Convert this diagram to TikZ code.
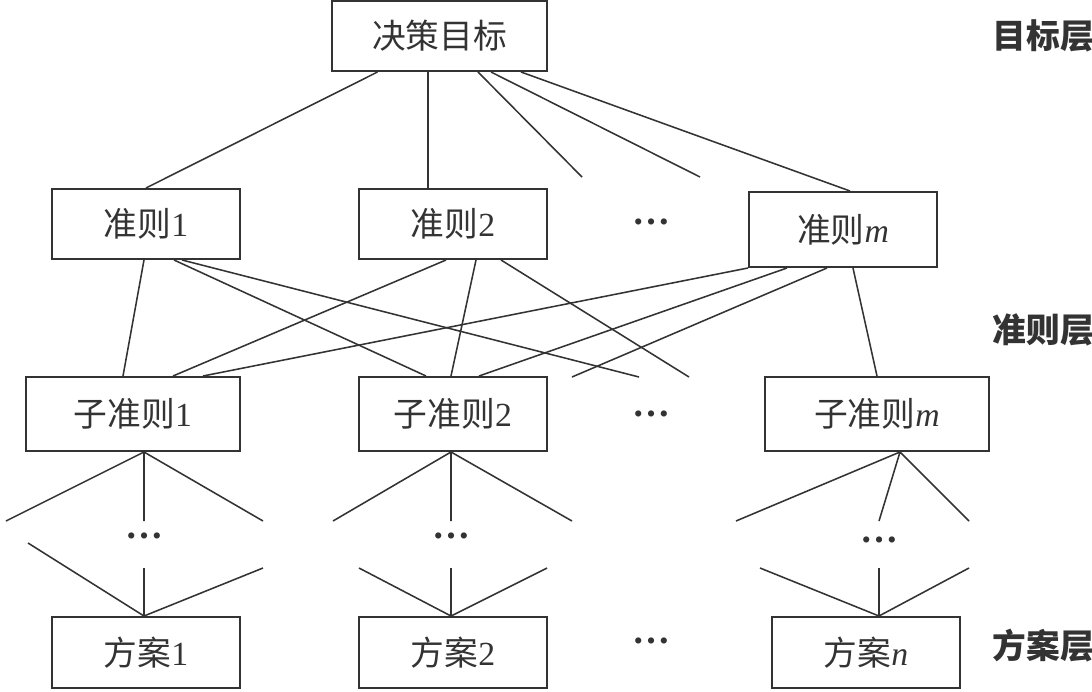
\documentclass[tikz,border=0pt]{standalone}
\usepackage{fontspec}
\setmainfont{Liberation Serif}
\newfontfamily\cjk{Noto Sans CJK SC}
\usetikzlibrary{calc}
\definecolor{ink}{HTML}{333333}

\begin{document}
\begin{tikzpicture}[x=0.025cm, y=-0.025cm,
  every node/.style={font=\fontsize{24}{28}\selectfont, text=ink},
  box/.style={draw=ink, line width=1.4pt, inner sep=0pt, minimum width=4.7cm, minimum height=1.75cm},
  link/.style={draw=ink, line width=1.1pt},
  dots/.style={font=\fontsize{27}{30}\selectfont\bfseries},
  layer/.style={anchor=west, font=\fontsize{24}{28}\selectfont\cjk\bfseries}]
  \useasboundingbox (0,0) rectangle (1092,691);
  % goal layer
  \node[box, minimum width=5.375cm] (goal) at (439.5,36) {\cjk 决策目标};
  % criteria
  \node[box] (c1) at (146,224) {{\cjk 准则}1};
  \node[box] (c2) at (453,224) {{\cjk 准则}2};
  \node[dots] (cd) at (651,222) {…};
  \node[box, minimum height=1.875cm] (cm) at (843,229.5) {{\cjk 准则}\textit{m}};
  % sub-criteria
  \node[box, minimum width=5.35cm, minimum height=1.85cm] (s1) at (133,414) {{\cjk 子准则}1};
  \node[box, minimum height=1.85cm] (s2) at (453,414) {{\cjk 子准则}2};
  \node[dots] (sd) at (651,414) {…};
  \node[box, minimum width=5.6cm, minimum height=1.85cm] (sm) at (877,414) {{\cjk 子准则}\textit{m}};
  % alternatives
  \node[box, minimum height=1.775cm] (a1) at (146,652.5) {{\cjk 方案}1};
  \node[box, minimum height=1.775cm] (a2) at (453,652.5) {{\cjk 方案}2};
  \node[dots] (ad) at (651,641) {…};
  \node[box, minimum height=1.775cm] (an) at (866,652.5) {{\cjk 方案}\textit{n}};
  \node[dots] (fd1) at (144,536) {…};
  \node[dots] (fd2) at (451,536) {…};
  \node[dots] (fd3) at (879,540) {…};
  % layer names
  \node[layer] (lgoal) at (988,36) {目标层};
  \node[layer] (lcrit) at (988,330) {准则层};
  \node[layer] (lalt) at (988,646) {方案层};

  % loose ends
  \coordinate (t1) at (582,177);
  \coordinate (t2) at (700,177);
  \coordinate (x1) at (639,377);
  \coordinate (x2) at (689,377);
  \coordinate (x3) at (572,377);

  % goal -> criteria
  \draw[link] ($(goal.south)+(-62,0)$) -- (c1.north);
  \draw[link] ($(goal.south)+(-11.5,0)$) -- ($(c2.north)+(-25,0)$);
  \draw[link] ($(goal.south)+(38.5,0)$) -- (t1);
  \draw[link] ($(goal.south)+(51.5,0)$) -- (t2);
  \draw[link] ($(goal.south)+(81.5,0)$) -- ($(cm.north)+(7,0)$);

  % criteria -> sub-criteria
  \draw[link] ($(c1.south)+(-2,0)$) -- ($(s1.north)+(-10,0)$);
  \draw[link] ($(c1.south)+(28,0)$) -- ($(s2.north)+(-27,0)$);
  \draw[link] ($(c1.south)+(36,0)$) -- (x1);
  \draw[link] ($(c2.south)+(-7,0)$) -- ($(s1.north)+(40,0)$);
  \draw[link] ($(c2.south)+(23,0)$) -- ($(s2.north)+(-2,0)$);
  \draw[link] ($(c2.south)+(48,0)$) -- (x2);
  \draw[link] (cm.south west) -- ($(s1.north)+(70,0)$);
  \draw[link] ($(cm.south)+(-56,0)$) -- ($(s2.north)+(26,0)$);
  \draw[link] ($(cm.south)+(-16,0)$) -- (x3);
  \draw[link] ($(cm.south)+(10,0)$) -- (sm.north);

  % fans below the sub-criteria
  \coordinate (f1) at ($(s1.south)+(11,0)$);
  \coordinate (f2) at ($(s2.south)+(-2,0)$);
  \coordinate (f3) at ($(sm.south)+(23,0)$);
  \coordinate (u11) at (6,521);   \coordinate (u12) at (144,521); \coordinate (u13) at (263,521);
  \coordinate (u21) at (333,521); \coordinate (u22) at (451,521); \coordinate (u23) at (572,521);
  \coordinate (u31) at (736,521); \coordinate (u32) at (879,521); \coordinate (u33) at (969,521);
  \draw[link] (f1) -- (u11) (f1) -- (u12) (f1) -- (u13);
  \draw[link] (f2) -- (u21) (f2) -- (u22) (f2) -- (u23);
  \draw[link] (f3) -- (u31) (f3) -- (u32) (f3) -- (u33);

  % fans above the alternatives
  \coordinate (g1) at ($(a1.north)+(-2,0)$);
  \coordinate (g2) at ($(a2.north)+(-2,0)$);
  \coordinate (g3) at ($(an.north)+(13,0)$);
  \coordinate (l11) at (28,543);  \coordinate (l12) at (144,568); \coordinate (l13) at (263,568);
  \coordinate (l21) at (359,568); \coordinate (l22) at (451,568); \coordinate (l23) at (547,568);
  \coordinate (l31) at (760,568); \coordinate (l32) at (879,568); \coordinate (l33) at (969,568);
  \draw[link] (l11) -- (g1) (l12) -- (g1) (l13) -- (g1);
  \draw[link] (l21) -- (g2) (l22) -- (g2) (l23) -- (g2);
  \draw[link] (l31) -- (g3) (l32) -- (g3) (l33) -- (g3);
\end{tikzpicture}
\end{document}
